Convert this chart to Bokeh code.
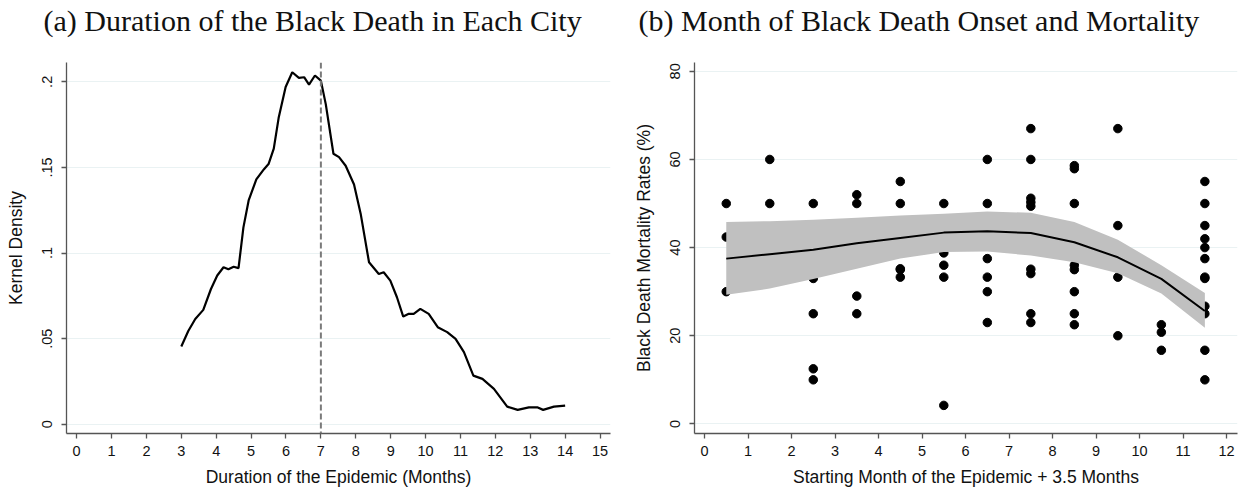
from bokeh.plotting import figure
from bokeh.layouts import row
from bokeh.models import Range1d, FixedTicker, Span
from bokeh.embed import file_html
from bokeh.resources import INLINE

# ---- Panel (a): kernel density of duration ----
dur_x = [3.0, 3.2, 3.4, 3.63, 3.85, 4.03, 4.21, 4.35, 4.5, 4.64, 4.78, 4.93, 5.15, 5.37, 5.5,
         5.65, 5.79, 5.99, 6.18, 6.37, 6.52, 6.66, 6.83, 7.0, 7.14, 7.36, 7.52, 7.71, 7.95,
         8.14, 8.38, 8.66, 8.80, 8.99, 9.18, 9.36, 9.52, 9.66, 9.85, 10.09, 10.35, 10.62,
         10.86, 11.1, 11.37, 11.63, 11.96, 12.34, 12.64, 12.96, 13.2, 13.37, 13.68, 14.0]
dur_d = [0.0454, 0.0545, 0.0615, 0.0668, 0.0790, 0.0869, 0.0917, 0.0905, 0.0920, 0.0912,
         0.1150, 0.1307, 0.1430, 0.1490, 0.1520, 0.1610, 0.1790, 0.1970, 0.2056, 0.2023,
         0.2027, 0.1984, 0.2037, 0.2007, 0.1870, 0.1580, 0.1560, 0.1510, 0.1400, 0.1230,
         0.0946, 0.0878, 0.0888, 0.0839, 0.0742, 0.0629, 0.0645, 0.0645, 0.0674, 0.0645,
         0.0567, 0.0538, 0.0499, 0.0421, 0.0284, 0.0265, 0.0207, 0.0103, 0.0084, 0.0099,
         0.0099, 0.0084, 0.0103, 0.0109]
median_duration = 7.0
a_xticks = list(range(0, 16))
a_yticks = [0, 0.05, 0.1, 0.15, 0.2]
a_ylabels = ["0", ".05", ".1", ".15", ".2"]
a_title = "(a)  Duration of the Black Death in Each City"

# ---- Panel (b): onset month vs mortality ----
sc_x = ([0.5] * 3 + [1.5] * 2 + [2.5] * 5 + [3.5] * 4 + [4.5] * 5 + [5.5] * 5 + [6.5] * 6 +
        [7.5] * 9 + [8.5] * 8 + [9.5] * 4 + [10.5] * 3 + [11.5] * 12)
sc_y = ([50, 42.4, 30] +
        [60, 50] +
        [50, 33, 25, 12.5, 10] +
        [52, 50, 29, 25] +
        [55, 50, 35.2, 35, 33.3] +
        [50, 38.8, 36, 33.3, 4.2] +
        [60, 50, 37.5, 33.3, 30, 23] +
        [67, 60, 51.2, 50.3, 49.4, 35.1, 34.1, 25, 23] +
        [58.6, 57.9, 50, 36, 35, 30, 25, 22.5] +
        [67, 45, 33.3, 20] +
        [22.5, 20.8, 16.7] +
        [55, 50, 45, 42, 40, 37.5, 33.3, 33, 26.7, 25, 16.7, 10])
fit_x = [0.5, 1.5, 2.5, 3.5, 4.5, 5.5, 6.5, 7.5, 8.5, 9.5, 10.5, 11.5]
fit_y = [37.5, 38.5, 39.5, 41.0, 42.2, 43.4, 43.7, 43.3, 41.2, 37.8, 32.9, 25.6]
fit_lo = [29.3, 30.7, 32.9, 35.2, 37.5, 39.0, 39.1, 38.2, 36.7, 34.2, 29.6, 21.8]
fit_hi = [45.8, 46.0, 46.3, 46.8, 47.3, 47.7, 48.2, 47.9, 45.8, 41.8, 36.0, 29.7]
b_xticks = list(range(0, 13))
b_yticks = [0, 20, 40, 60, 80]
b_title = "(b)  Month of Black Death Onset and Mortality"

SANS = "Liberation Sans"
SERIF = "Liberation Serif"
GRID = "#eaf2f3"
AXIS = "#555555"
FRAME_H = 371


def style(p, xticks, yticks, ylabels=None):
    p.outline_line_color = None
    p.xgrid.grid_line_color = None
    p.ygrid.grid_line_color = GRID
    p.ygrid.grid_line_width = 1
    p.xaxis.ticker = FixedTicker(ticks=xticks)
    p.yaxis.ticker = FixedTicker(ticks=yticks)
    if ylabels:
        p.yaxis.major_label_overrides = {t: l for t, l in zip(yticks, ylabels)}
    p.yaxis.major_label_orientation = "vertical"
    for ax in (p.xaxis[0], p.yaxis[0]):
        ax.axis_line_color = AXIS
        ax.axis_line_width = 1.3
        ax.major_tick_line_color = AXIS
        ax.major_tick_line_width = 1.3
        ax.major_tick_in = 0
        ax.major_tick_out = 5
        ax.minor_tick_line_color = None
        ax.major_label_text_font = SANS
        ax.major_label_text_font_size = "14.5px"
        ax.major_label_text_color = "#111111"
        ax.axis_label_text_font = SANS
        ax.axis_label_text_font_size = "17.5px"
        ax.axis_label_text_font_style = "normal"
        ax.axis_label_text_color = "#111111"
    p.xaxis.major_label_standoff = 7
    p.xaxis.axis_label_standoff = 8
    p.yaxis.major_label_standoff = 9
    p.yaxis.axis_label_standoff = 14
    p.title.text_font = SERIF
    p.title.text_font_size = "30px"
    p.title.text_font_style = "normal"
    p.title.text_color = "#111111"
    p.title.align = "left"
    p.title.vertical_align = "top"
    p.title.text_line_height = 0.66
    p.title.standoff = 3


pa = figure(frame_width=544, frame_height=FRAME_H, output_backend="svg", toolbar_location=None,
            x_range=Range1d(-0.29, 15.3), y_range=Range1d(-0.0054, 0.2113),
            title=a_title + "\n\u00a0",
            x_axis_label="Duration of the Epidemic (Months)", y_axis_label="Kernel Density",
            min_border_left=66, min_border_right=20, min_border_top=62, min_border_bottom=50)
style(pa, a_xticks, a_yticks, a_ylabels)
pa.title.offset = -23
pa.line(dur_x, dur_d, line_color="black", line_width=2.2)
pa.add_layout(Span(location=median_duration, dimension="height", line_color="#7a7a7a",
                   line_width=2, line_dash="6 3"))

pb = figure(frame_width=543, frame_height=FRAME_H, output_backend="svg", toolbar_location=None,
            x_range=Range1d(-0.23, 12.25), y_range=Range1d(-2.18, 82.0),
            title=b_title + "\n\u00a0",
            x_axis_label="Starting Month of the Epidemic + 3.5 Months",
            y_axis_label="Black Death Mortality Rates (%)",
            min_border_left=62, min_border_right=4, min_border_top=62, min_border_bottom=50)
style(pb, b_xticks, b_yticks)
pb.title.offset = -56
pb.scatter(sc_x, sc_y, size=8.5, fill_color="black", line_color="black")
pb.varea(x=fit_x, y1=fit_lo, y2=fit_hi, fill_color="#c0c0c0")
pb.line(fit_x, fit_y, line_color="black", line_width=2)

layout = row(pa, pb, spacing=0)
open("out.html", "w").write(file_html(layout, INLINE))
